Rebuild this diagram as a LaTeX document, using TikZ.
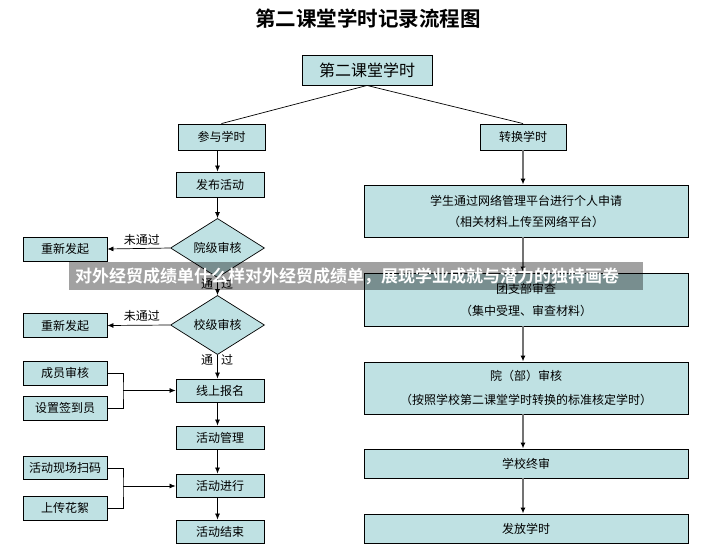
\documentclass[tikz,border=0pt]{standalone}
\usepackage{fontspec}
\setmainfont{Noto Sans CJK SC}[BoldFont={* Bold}]
\usetikzlibrary{shapes.geometric,arrows.meta}
\definecolor{boxfill}{HTML}{BFE1E3}
\tikzset{
  box/.style={draw=black, line width=0.9pt, fill=boxfill, inner sep=0pt, font=\fontsize{12}{14}\selectfont},
  dia/.style={diamond, draw=black, line width=0.7pt, fill=boxfill, inner sep=0pt, minimum width=94pt, minimum height=46pt, font=\fontsize{12}{14}\selectfont},
  arr/.style={draw=black, line width=0.7pt, -{Latex[length=6pt,width=5pt]}},
  garr/.style={draw=black!55, line width=1.3pt, -{Latex[length=6pt,width=5pt,color=black]}},
  plain/.style={draw=black, line width=0.7pt},
  lbl/.style={font=\fontsize{12}{14}\selectfont, inner sep=0pt}
}
\begin{document}
\begin{tikzpicture}[x=1pt,y=-1pt]
\useasboundingbox (0,0) rectangle (714,552);
\fill[white] (0,0) rectangle (714,552);
% title
\node[font=\fontsize{20.5}{24}\selectfont\bfseries] (title) at (368,19) {第二课堂学时记录流程图};
% top
\node[box, minimum width=130pt, minimum height=30pt, font=\fontsize{16}{18}\selectfont] (top) at (367,70) {第二课堂学时};
\node[box, minimum width=87pt, minimum height=26pt] (canyu) at (221.5,137) {参与学时};
\node[box, minimum width=86pt, minimum height=26pt] (zhuan) at (523,137) {转换学时};
\draw[plain] (top.south) -- (canyu.north);
\draw[plain] (top.south) -- (zhuan.north);
% left column
\node[box, minimum width=88pt, minimum height=25pt] (fabu) at (220,184.5) {发布活动};
\node[dia] (yuan) at (217.5,248) {院级审核};
\node[box, minimum width=84pt, minimum height=24pt] (cx1) at (65,249) {重新发起};
\node[dia] (xiao) at (217.5,325) {校级审核};
\node[box, minimum width=84pt, minimum height=24pt] (cx2) at (65,325.5) {重新发起};
\node[box, minimum width=88pt, minimum height=23pt] (xs) at (220,390.5) {线上报名};
\node[box, minimum width=88pt, minimum height=23pt] (gl) at (220,437.5) {活动管理};
\node[box, minimum width=88pt, minimum height=23pt] (jx) at (220,485.5) {活动进行};
\node[box, minimum width=88pt, minimum height=23pt] (js) at (220,531.5) {活动结束};
\node[box, minimum width=84pt, minimum height=24pt] (cy) at (65,373) {成员审核};
\node[box, minimum width=84pt, minimum height=24pt] (qd) at (65,408) {设置签到员};
\node[box, minimum width=84pt, minimum height=23pt] (sm) at (65,468) {活动现场扫码};
\node[box, minimum width=84pt, minimum height=24pt] (hx) at (65,508) {上传花絮};

\draw[arr] (canyu.south -| yuan.north) -- (fabu.north -| yuan.north);
\draw[arr] (fabu.south -| yuan.north) -- (yuan.north);
\draw[arr] (yuan.west) -- (cx1.east) node[lbl, pos=0.45, above=3pt] {未通过};
\draw[arr] (yuan.south) -- (xiao.north);
\node[lbl] (tg1a) at (207,284) {通};
\node[lbl] (tg1b) at (227,284) {过};
\draw[arr] (xiao.west) -- (cx2.east) node[lbl, pos=0.45, above=3pt] {未通过};
\draw[arr] (xiao.south) -- (xs.north -| xiao.south);
\node[lbl] (tg2a) at (207,360) {通};
\node[lbl] (tg2b) at (227,360) {过};
\draw[arr] (xs.south -| xiao.south) -- (gl.north -| xiao.south);
\draw[arr] (gl.south -| xiao.south) -- (jx.north -| xiao.south);
\draw[arr] (jx.south -| xiao.south) -- (js.north -| xiao.south);
\coordinate (b1) at (123,390.5);
\coordinate (b2) at (123,486);
\draw[plain] (cy.east) -| (b1) |- (qd.east);
\draw[arr] (b1) -- (xs.west);
\draw[plain] (sm.east) -| (b2) |- (hx.east);
\draw[arr] (b2) -- (jx.west |- b2);

% right column
\node[box, minimum width=324pt, minimum height=52pt, align=center, font=\fontsize{12}{21}\selectfont] (r1) at (526,211) {学生通过网络管理平台进行个人申请\\（相关材料上传至网络平台）};
\node[box, minimum width=324pt, minimum height=53pt, align=center, font=\fontsize{12}{22}\selectfont] (r2) at (526,299.5) {团支部审查\\（集中受理、审查材料）};
\node[box, minimum width=324pt, minimum height=52pt, align=center, font=\fontsize{12}{24}\selectfont] (r3) at (526,388) {院（部）审核\\（按照学校第二课堂学时转换的标准核定学时）};
\node[box, minimum width=324pt, minimum height=29pt] (r4) at (526,463.5) {学校终审};
\node[box, minimum width=324pt, minimum height=29pt] (r5) at (526,528.5) {发放学时};
\draw[garr] (zhuan.south) -- (r1.north -| zhuan.south);
\draw[garr] (r1.south -| zhuan.south) -- (r2.north -| zhuan.south);
\draw[garr] (r2.south -| zhuan.south) -- (r3.north -| zhuan.south);
\draw[garr] (r3.south -| zhuan.south) -- (r4.north -| zhuan.south);
\draw[garr] (r4.south -| zhuan.south) -- (r5.north -| zhuan.south);

% banner overlay
\fill[black, opacity=0.37] (69,262) rectangle (643,290);
\node[anchor=west, text=white, font=\fontsize{17}{20}\selectfont\bfseries, inner sep=0pt] (banner) at (75,276) {对外经贸成绩单什么样对外经贸成绩单，展现学业成就与潜力的独特画卷};
\end{tikzpicture}
\end{document}
